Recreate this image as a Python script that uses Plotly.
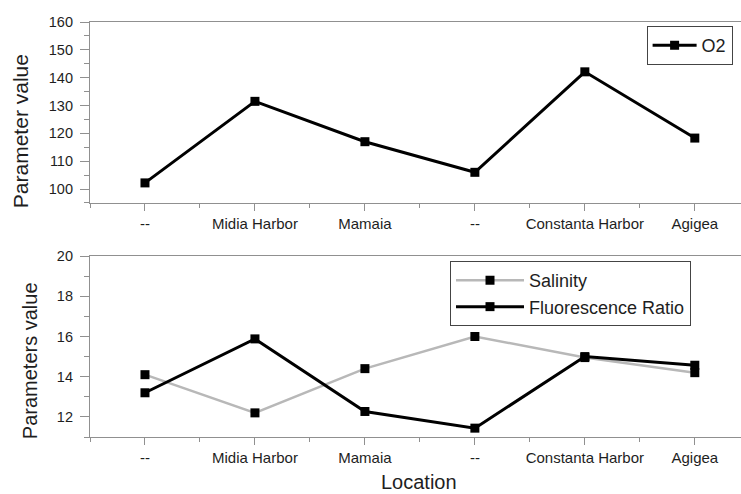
import plotly.graph_objects as go

# Sampling locations along the coast
locations = ["--", "Midia Harbor", "Mamaia", "--", "Constanta Harbor", "Agigea"]
positions = [0, 1, 2, 3, 4, 5]

# Dissolved oxygen
o2 = [102.2, 131.5, 117.0, 106.0, 142.1, 118.3]

# Salinity and fluorescence ratio
salinity = [14.1, 12.2, 14.4, 16.0, 14.95, 14.2]
fluorescence = [13.2, 15.88, 12.27, 11.44, 15.0, 14.57]

FONT = "Liberation Sans, Arial, sans-serif"
AXIS_GREY = "#909090"
TEXT = "#1e1e1e"

fig = go.Figure()

fig.add_trace(go.Scatter(
    x=positions, y=o2, name="O2", mode="lines+markers",
    line=dict(color="black", width=3),
    marker=dict(symbol="square", size=9, color="black"),
    xaxis="x", yaxis="y", legend="legend",
))
fig.add_trace(go.Scatter(
    x=positions, y=salinity, name="Salinity", mode="lines+markers",
    line=dict(color="#b8b8b8", width=2.5),
    marker=dict(symbol="square", size=9, color="black"),
    xaxis="x2", yaxis="y2", legend="legend2",
))
fig.add_trace(go.Scatter(
    x=positions, y=fluorescence, name="Fluorescence Ratio", mode="lines+markers",
    line=dict(color="black", width=3),
    marker=dict(symbol="square", size=9, color="black"),
    xaxis="x2", yaxis="y2", legend="legend2",
))

xcommon = dict(
    range=[-0.5, 5.42], tickmode="array", tickvals=positions, ticktext=locations,
    showline=True, linecolor=AXIS_GREY, linewidth=1.2, mirror=True,
    ticks="outside", ticklen=7, tickcolor=AXIS_GREY, showgrid=False, zeroline=False,
    tickfont=dict(family=FONT, size=15, color=TEXT),
    minor=dict(tickmode="linear", tick0=-0.5, dtick=1, ticks="outside", ticklen=4,
               tickcolor=AXIS_GREY, showgrid=False),
)
ycommon = dict(
    showline=True, linecolor=AXIS_GREY, linewidth=1.2,
    ticks="outside", ticklen=9, tickcolor=AXIS_GREY, showgrid=False, zeroline=False,
    tickfont=dict(family=FONT, size=14.5, color=TEXT), ticklabelstandoff=4,
)

title_font = dict(family=FONT, size=21, color=TEXT)

fig.update_layout(
    width=741, height=494,
    margin=dict(l=90, r=0, t=22, b=57, autoexpand=False),
    paper_bgcolor="white", plot_bgcolor="white",
    font=dict(family=FONT, color=TEXT),
    showlegend=True,
    xaxis=dict(**xcommon, anchor="y", domain=[0, 1]),
    yaxis=dict(**ycommon, anchor="x", domain=[0.564, 1], range=[95, 160],
               tickvals=[100, 110, 120, 130, 140, 150, 160],
               minor=dict(tickmode="linear", tick0=95, dtick=10, ticks="outside",
                          ticklen=5, tickcolor=AXIS_GREY, showgrid=False)),
    xaxis2=dict(**xcommon, anchor="y2", domain=[0, 1]),
    yaxis2=dict(**ycommon, anchor="x2", domain=[0, 0.436], range=[11, 20],
                tickvals=[12, 14, 16, 18, 20],
                minor=dict(tickmode="linear", tick0=11, dtick=2, ticks="outside",
                           ticklen=5, tickcolor=AXIS_GREY, showgrid=False)),
    annotations=[
        dict(text="Parameter value", textangle=-90, font=title_font,
             xref="paper", yref="paper", x=-0.1075, y=0.737,
             xanchor="center", yanchor="middle", showarrow=False),
        dict(text="Parameters value", textangle=-90, font=dict(family=FONT, size=20, color=TEXT),
             xref="paper", yref="paper", x=-0.0922, y=0.185,
             xanchor="center", yanchor="middle", showarrow=False),
        dict(text="Location", font=dict(family=FONT, size=20, color=TEXT),
             xref="paper", yref="paper", x=0.505, y=-0.108,
             xanchor="center", yanchor="middle", showarrow=False),
    ],
    legend=dict(x=0.855, y=0.99, xanchor="left", yanchor="top",
                bgcolor="white", bordercolor="#444", borderwidth=1,
                font=dict(family=FONT, size=18, color=TEXT),
                itemwidth=44, tracegroupgap=0),
    legend2=dict(x=0.553, y=0.424, xanchor="left", yanchor="top",
                 bgcolor="white", bordercolor="#444", borderwidth=1,
                 font=dict(family=FONT, size=18, color=TEXT),
                 itemwidth=68, tracegroupgap=0),
)

fig.write_html("out.html")
